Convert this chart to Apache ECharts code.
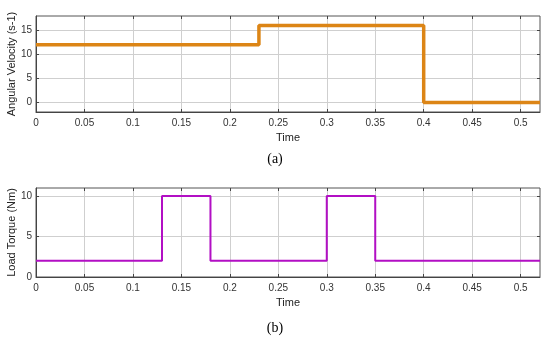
<!DOCTYPE html>
<html><head><meta charset="utf-8">
<script src="https://cdn.jsdelivr.net/npm/echarts@6/dist/echarts.min.js"></script>
<style>html,body{margin:0;padding:0;background:#fff}#c{width:550px;height:342px}</style>
</head><body><div id="c"></div>
<script>
// Angular velocity step profile (time, value)
const velTime = [0, 0.23, 0.23, 0.4, 0.4, 0.52];
const velValue = [12, 12, 16, 16, 0, 0];
// Load torque profile (time, value)
const torqueTime = [0, 0.13, 0.13, 0.18, 0.18, 0.30, 0.30, 0.35, 0.35, 0.52];
const torqueValue = [2, 2, 10, 10, 2, 2, 10, 10, 2, 2];
const xTicks = [0, 0.05, 0.1, 0.15, 0.2, 0.25, 0.3, 0.35, 0.4, 0.45, 0.5];
const velTicks = [0, 5, 10, 15];
const torqueTicks = [0, 5, 10];
const captions = ['(a)', '(b)'];

const chart = echarts.init(document.getElementById('c'));
const axisFont = {color: '#333', fontSize: 10, fontFamily: 'Liberation Sans'};
function xAx(gi, main) {
  return {
    type: 'value', gridIndex: gi, min: 0, max: 0.52,
    position: main ? 'bottom' : 'top',
    name: main ? 'Time' : '', nameLocation: 'middle', nameGap: 20,
    nameTextStyle: {color: '#222', fontSize: 11, fontFamily: 'Liberation Sans'},
    axisLine: {show: main, onZero: false, lineStyle: {color: '#444'}},
    axisTick: {show: true, inside: true, length: 3, customValues: xTicks, lineStyle: {color: '#444'}},
    axisLabel: {show: main, ...axisFont, margin: 6, customValues: xTicks, formatter: v => String(+(+v).toFixed(2))},
    splitLine: {show: main, lineStyle: {color: '#cfcfcf', width: 1}}
  };
}
function yAx(gi, main, min, max, name, ticks) {
  return {
    type: 'value', gridIndex: gi, min: min, max: max,
    position: main ? 'left' : 'right',
    name: main ? name : '', nameLocation: 'middle', nameGap: 19, nameMoveOverlap: false,
    nameTextStyle: {color: '#222', fontSize: 11, fontFamily: 'Liberation Sans'},
    axisLine: {show: main, onZero: false, lineStyle: {color: '#444'}},
    axisTick: {show: true, inside: true, length: 3, customValues: ticks, lineStyle: {color: '#444'}},
    axisLabel: {show: main, ...axisFont, margin: 4, customValues: ticks},
    splitLine: {show: main, lineStyle: {color: '#cfcfcf', width: 1}}
  };
}
chart.setOption({
  animation: false,
  backgroundColor: '#fff',
  grid: [
    {left: 36, right: 10, top: 16, height: 96, show: true, borderColor: '#555', borderWidth: 1, outerBoundsMode: 'none', containLabel: false},
    {left: 36, right: 10, top: 188, height: 89, show: true, borderColor: '#555', borderWidth: 1, outerBoundsMode: 'none', containLabel: false}
  ],
  title: [
    {text: captions[0], left: 'center', top: 147, textStyle: {fontFamily: 'Liberation Serif', fontSize: 14, fontWeight: 'normal', color: '#000'}},
    {text: captions[1], left: 'center', top: 316, textStyle: {fontFamily: 'Liberation Serif', fontSize: 14, fontWeight: 'normal', color: '#000'}}
  ],
  xAxis: [xAx(0, true), xAx(0, false), xAx(1, true), xAx(1, false)],
  yAxis: [yAx(0, true, -2, 18, 'Angular Velocity (s-1)', velTicks), yAx(0, false, -2, 18, '', velTicks),
          yAx(1, true, 0, 11, 'Load Torque (Nm)', torqueTicks), yAx(1, false, 0, 11, '', torqueTicks)],
  series: [
    {type: 'line', xAxisIndex: 0, yAxisIndex: 0, showSymbol: false,
     data: velTime.map((t, i) => [t, velValue[i]]),
     lineStyle: {color: '#dc8516', width: 3.5}},
    {type: 'line', xAxisIndex: 2, yAxisIndex: 2, showSymbol: false,
     data: torqueTime.map((t, i) => [t, torqueValue[i]]),
     lineStyle: {color: '#b20fc4', width: 2}}
  ]
});
</script></body></html>
